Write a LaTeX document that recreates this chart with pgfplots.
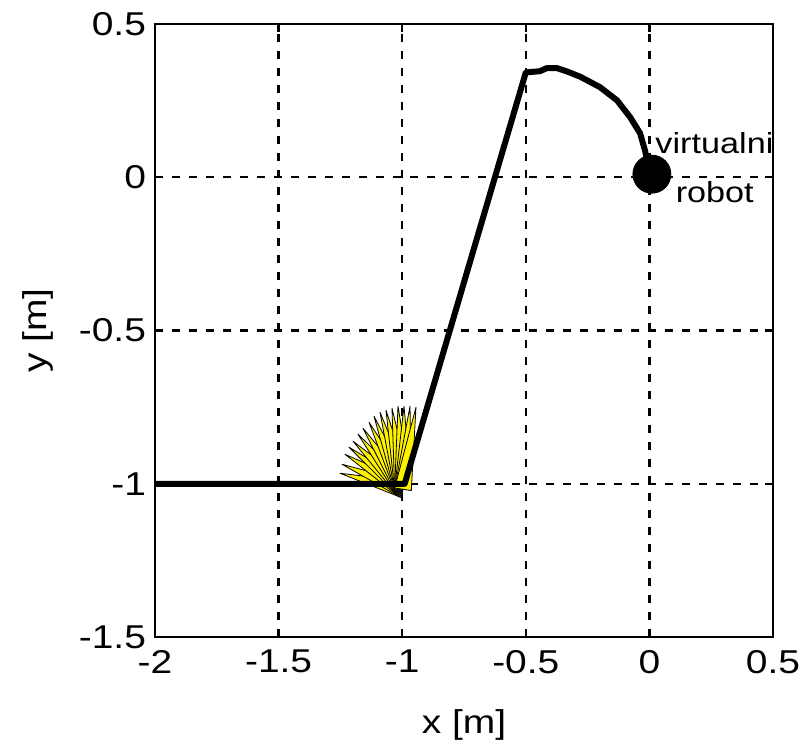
\documentclass[border=0pt]{standalone}
\usepackage{fontspec}
\setmainfont{Liberation Sans}[FakeStretch=1.18]
\usepackage{pgfplots}
\pgfplotsset{compat=1.18}
\usetikzlibrary{calc}

\begin{document}
\begin{tikzpicture}
\begin{axis}[
    scale only axis,
    width=309pt, height=306.5pt,
    xmin=-2, xmax=0.5,
    ymin=-1.5, ymax=0.5,
    xtick={-2,-1.5,...,0.5},
    ytick={-1.5,-1,...,0.5},
    xticklabels={-2,-1.5,-1,-0.5,0,0.5},
    yticklabels={-1.5,-1,-0.5,0,0.5},
    /pgf/number format/assume math mode=true,
    tick label style={font=\fontsize{16.5}{20}\selectfont},
    label style={font=\fontsize{16.5}{20}\selectfont},
    xticklabel style={yshift=-3pt},
    yticklabel style={xshift=-1pt},
    xlabel={x [m]},
    ylabel={y [m]},
    xlabel style={yshift=-11pt},
    ylabel style={yshift=6pt},
    axis line style={line width=1.4pt},
    tick align=inside,
    major tick length=4pt,
    tick style={black, line width=1.2pt},
    grid=major,
    grid style={black, line width=1.2pt, dash pattern=on 4pt off 4.5pt},
    clip=false,
]

% heading triangles at the corner
\pgfplotsset{tri/.style={fill=yellow, draw=black, line width=0.4pt, line join=round}}
\addplot[tri] coordinates {(-1.2516,-0.9657) (-1.0053,-1.0445) (-0.9883,-0.9915)} -- cycle;
\addplot[tri] coordinates {(-1.2435,-0.9364) (-1.0097,-1.0433) (-0.9839,-0.9927)} -- cycle;
\addplot[tri] coordinates {(-1.2314,-0.9038) (-1.0143,-1.0415) (-0.9793,-0.9945)} -- cycle;
\addplot[tri] coordinates {(-1.2152,-0.8809) (-1.0177,-1.0396) (-0.9759,-0.9964)} -- cycle;
\addplot[tri] coordinates {(-1.1990,-0.8613) (-1.0203,-1.0377) (-0.9733,-0.9983)} -- cycle;
\addplot[tri] coordinates {(-1.1788,-0.8385) (-1.0231,-1.0354) (-0.9705,-1.0006)} -- cycle;
\addplot[tri] coordinates {(-1.1586,-0.8189) (-1.0252,-1.0330) (-0.9684,-1.0030)} -- cycle;
\addplot[tri] coordinates {(-1.1343,-0.7993) (-1.0270,-1.0305) (-0.9666,-1.0055)} -- cycle;
\addplot[tri] coordinates {(-1.1141,-0.7798) (-1.0284,-1.0281) (-0.9652,-1.0079)} -- cycle;
\addplot[tri] coordinates {(-1.0898,-0.7667) (-1.0294,-1.0258) (-0.9642,-1.0102)} -- cycle;
\addplot[tri] coordinates {(-1.0655,-0.7602) (-1.0300,-1.0237) (-0.9636,-1.0123)} -- cycle;
\addplot[tri] coordinates {(-1.0413,-0.7537) (-1.0305,-1.0216) (-0.9631,-1.0144)} -- cycle;
\addplot[tri] coordinates {(-1.0170,-0.7471) (-1.0307,-1.0197) (-0.9629,-1.0163)} -- cycle;
\addplot[tri] coordinates {(-0.9927,-0.7471) (-1.0308,-1.0177) (-0.9628,-1.0183)} -- cycle;
\addplot[tri] coordinates {(-0.9684,-0.7471) (-1.0307,-1.0158) (-0.9629,-1.0202)} -- cycle;
\addplot[tri] coordinates {(-0.9442,-0.7504) (-1.0304,-1.0137) (-0.9632,-1.0223)} -- cycle;

% robot path
\addplot[black, line width=3pt, line join=round] coordinates {
    (-2,-1) (-1.0,-1.0) (-0.99,-1.0) (-0.5,0.342) (-0.443,0.346)
    (-0.415,0.356) (-0.374,0.356) (-0.333,0.345) (-0.28,0.328)
    (-0.20,0.294) (-0.131,0.251) (-0.078,0.196) (-0.038,0.144)
    (-0.018,0.088) (-0.008,0.05) (0.005,0.015)
};

% virtual robot
\addplot[only marks, mark=*, mark size=9.5pt, black] coordinates {(0.01,0.01)};

\node[anchor=base west, inner sep=0pt, font=\fontsize{14.5}{17}\selectfont] at (axis cs:0.023,0.078) {virtualni};
\node[anchor=base west, inner sep=0pt, font=\fontsize{14.5}{17}\selectfont] at (axis cs:0.105,-0.082) {robot};
\end{axis}
\path ($(current axis.south west)+(-77.5pt,-54.5pt)$) rectangle ($(current axis.north east)+(19.5pt,12pt)$);
\end{tikzpicture}
\end{document}
